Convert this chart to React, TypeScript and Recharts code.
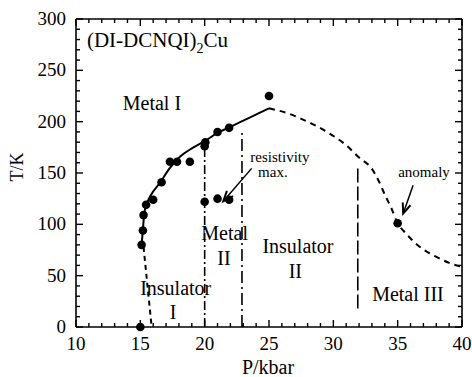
import {
  ComposedChart,
  Line,
  Scatter,
  XAxis,
  YAxis,
  ReferenceLine,
  ReferenceDot,
} from "recharts";

const FONT = '"Liberation Serif", "Times New Roman", serif';
const TICK_GAP = 6;

// measured transition points (P in kbar, T in K)
const onsetP = [15.0, 15.1, 15.2, 15.25, 15.45, 16.0, 16.65, 17.3, 17.85, 18.85, 20.0, 20.05, 21.0, 21.9, 25.0, 35.0];
const onsetT = [0, 80, 94, 109, 119, 124, 141, 161, 161, 161, 176, 180, 190, 194, 225, 101];

// resistivity maxima inside Metal II
const rhoMaxP = [20.0, 21.0, 21.9];
const rhoMaxT = [122, 125, 124];

// solid Metal I boundary
const upperP = [15.1, 15.2, 15.3, 15.5, 15.8, 16.5, 17.3, 18.1, 19.0, 20.0, 21.0, 22.0, 23.5, 25.0];
const upperT = [80, 95, 110, 120, 128, 140, 155, 166, 174, 181, 189, 195, 204, 213];

// dashed continuation to high pressure
const highP = [25.0, 26.5, 28.0, 29.5, 31.0, 32.0, 33.0, 33.5, 34.0, 34.5, 35.0, 35.5, 36.1, 37.0, 37.9, 39.0, 40.0];
const highT = [213, 208, 200, 190, 177, 165, 154, 143, 129, 116, 101, 93, 85, 75.5, 69, 62.5, 58.5];

// dashed low-pressure edge of Insulator I
const lowP = [15.25, 15.88];
const lowT = [78, 0];

// vertical phase walls
const wallP = [20.0, 22.9, 31.9];
const wallLo = [0, 0, 18];
const wallHi = [178, 190, 155];
const wallDash = ["9 3 2 3", "12 4 2 4", "14 4"];

// phase names
const phaseText = ["Metal I", "Insulator", "I", "Metal", "II", "Insulator", "II", "Metal III"];
const phaseP = [15.9, 17.75, 17.55, 21.55, 21.5, 27.25, 27.05, 35.8];
const phaseT = [211, 31, 7.5, 85, 60.5, 72, 47.5, 25];

// small notes with arrows
const noteText = ["resistivity", "max.", "anomaly"];
const noteP = [25.85, 25.3, 37.05];
const noteT = [161, 146, 146];
const arrowFromP = [23.65, 36.2];
const arrowFromT = [154.5, 138];
const arrowToP = [21.45, 35.43];
const arrowToT = [122.5, 110.5];

const titleMain = "(DI-DCNQI)";
const titleSub = "2";
const titleTail = "Cu";
const titleP = 10.85;
const titleT = 272.6;

const xTitle = "P/kbar";
const yTitle = "T/K";

const P_MIN = 10;
const P_MAX = 40;
const T_MIN = 0;
const T_MAX = 300;

const xTicks = [10, 11, 12, 13, 14, 15, 16, 17, 18, 19, 20, 21, 22, 23, 24, 25, 26, 27, 28, 29, 30, 31, 32, 33, 34, 35, 36, 37, 38, 39, 40];
const xMajor = [10, 15, 20, 25, 30, 35, 40];
const yTicks = [0, 10, 20, 30, 40, 50, 60, 70, 80, 90, 100, 110, 120, 130, 140, 150, 160, 170, 180, 190, 200, 210, 220, 230, 240, 250, 260, 270, 280, 290, 300];
const yMajor = [0, 50, 100, 150, 200, 250, 300];

const zip = (ps: number[], ts: number[]) => ps.map((p, i) => ({ p, t: ts[i] }));

// tick anchor points on each side of the frame
const bottomTicks = xTicks.map((p) => ({ p, t: T_MIN }));
const topTicks = xTicks.map((p) => ({ p, t: T_MAX }));
const leftTicks = yTicks.map((t) => ({ p: P_MIN, t }));
const rightTicks = yTicks.map((t) => ({ p: P_MAX, t }));
const frameTop = [{ p: P_MIN, t: T_MAX }, { p: P_MAX, t: T_MAX }];
const frameRight = [{ p: P_MAX, t: T_MIN }, { p: P_MAX, t: T_MAX }];

// inward tick marks drawn as scatter shapes; (dx, dy) is the inward direction
const tickMark = (dx: number, dy: number, isMajor: (d: any) => boolean) => (props: any) => {
  const len = isMajor(props.payload) ? 7 : 4;
  return (
    <line
      x1={props.cx}
      y1={props.cy}
      x2={props.cx + dx * len}
      y2={props.cy + dy * len}
      stroke="#000"
      strokeWidth={1.4}
    />
  );
};
const majorP = (d: any) => xMajor.includes(d.p);
const majorT = (d: any) => yMajor.includes(d.t);

// tick labels, plus the axis titles hung off the centre ticks
const renderXTick = (props: any) => {
  const { x, y, payload } = props;
  const axis = y - TICK_GAP;
  return (
    <g>
      {xMajor.includes(payload.value) && (
        <text x={x} y={axis + 23} textAnchor="middle" fontFamily={FONT} fontSize={19} fill="#000">
          {payload.value}
        </text>
      )}
      {payload.value === 25 && (
        <text x={x - 1} y={axis + 47} textAnchor="middle" fontFamily={FONT} fontSize={20} fill="#000">
          {xTitle}
        </text>
      )}
    </g>
  );
};

const renderYTick = (props: any) => {
  const { x, y, payload } = props;
  const axis = x + TICK_GAP;
  const tx = axis - 59;
  const ty = y - 6;
  return (
    <g>
      {yMajor.includes(payload.value) && (
        <text x={axis - 10} y={y + 6} textAnchor="end" fontFamily={FONT} fontSize={19} fill="#000">
          {payload.value}
        </text>
      )}
      {payload.value === 150 && (
        <text x={tx} y={ty} transform={`rotate(-90, ${tx}, ${ty})`} textAnchor="middle" dominantBaseline="central" fontFamily={FONT} fontSize={18} fill="#000">
          {yTitle}
        </text>
      )}
    </g>
  );
};

const Dot = (props: any) => <circle cx={props.cx} cy={props.cy} r={4.3} fill="#000" />;

const Arrow = (props: any) => {
  const { x1, y1, x2, y2 } = props;
  const ang = Math.atan2(y2 - y1, x2 - x1);
  const len = 11;
  const spread = 0.38;
  const ax = x2 - len * Math.cos(ang - spread);
  const ay = y2 - len * Math.sin(ang - spread);
  const bx = x2 - len * Math.cos(ang + spread);
  const by = y2 - len * Math.sin(ang + spread);
  return (
    <g>
      <line x1={x1} y1={y1} x2={x2} y2={y2} stroke="#000" strokeWidth={1.5} />
      <path d={`M${ax},${ay} L${x2},${y2} L${bx},${by}`} fill="none" stroke="#000" strokeWidth={2} />
    </g>
  );
};

const textAt = (text: string, size: number) => (props: any) => (
  <text x={props.cx} y={props.cy} textAnchor="middle" fontFamily={FONT} fontSize={size} fill="#000">
    {text}
  </text>
);

const Title = (props: any) => (
  <text x={props.cx} y={props.cy} fontFamily={FONT} fontSize={21} fill="#000">
    {titleMain}
    <tspan fontSize={14} dy={6}>{titleSub}</tspan>
    <tspan dy={-6}>{titleTail}</tspan>
  </text>
);

export default function App() {
  const axisLine = { stroke: "#000", strokeWidth: 1.6 };
  return (
    <div style={{ position: "absolute", left: 0, top: 0, background: "#fff" }}>
      <ComposedChart width={472} height={377} margin={{ top: 19, right: 10, bottom: 0, left: 0 }}>
        <XAxis
          dataKey="p"
          type="number"
          domain={[P_MIN, P_MAX]}
          ticks={xTicks}
          interval={0}
          tickSize={0}
          tickLine={false}
          tickMargin={TICK_GAP}
          tick={renderXTick}
          axisLine={axisLine}
          height={50}
        />
        <YAxis
          dataKey="t"
          type="number"
          domain={[T_MIN, T_MAX]}
          ticks={yTicks}
          interval={0}
          tickSize={0}
          tickLine={false}
          tickMargin={TICK_GAP}
          tick={renderYTick}
          axisLine={axisLine}
          width={76}
        />

        {/* frame top and right edges */}
        <Line data={frameTop} dataKey="t" type="linear" stroke="#000" strokeWidth={1.6} dot={false} isAnimationActive={false} />
        <Line data={frameRight} dataKey="t" type="linear" stroke="#000" strokeWidth={1.6} dot={false} isAnimationActive={false} />

        {/* inward ticks on all four sides */}
        <Scatter data={bottomTicks} shape={tickMark(0, -1, majorP)} isAnimationActive={false} />
        <Scatter data={topTicks} shape={tickMark(0, 1, majorP)} isAnimationActive={false} />
        <Scatter data={leftTicks} shape={tickMark(1, 0, majorT)} isAnimationActive={false} />
        <Scatter data={rightTicks} shape={tickMark(-1, 0, majorT)} isAnimationActive={false} />

        {wallP.map((p, i) => (
          <ReferenceLine
            key={`wall-${i}`}
            segment={[{ x: p, y: wallLo[i] }, { x: p, y: wallHi[i] }]}
            stroke="#000"
            strokeWidth={1.6}
            strokeDasharray={wallDash[i]}
          />
        ))}

        <Line data={zip(upperP, upperT)} dataKey="t" type="monotone" stroke="#000" strokeWidth={2} dot={false} isAnimationActive={false} />
        <Line data={zip(highP, highT)} dataKey="t" type="monotone" stroke="#000" strokeWidth={2} strokeDasharray="6 5" dot={false} isAnimationActive={false} />
        <Line data={zip(lowP, lowT)} dataKey="t" type="linear" stroke="#000" strokeWidth={2} strokeDasharray="5 4" dot={false} isAnimationActive={false} />

        <Scatter data={zip(onsetP, onsetT)} fill="#000" shape={<Dot />} isAnimationActive={false} />
        <Scatter data={zip(rhoMaxP, rhoMaxT)} fill="#000" shape={<Dot />} isAnimationActive={false} />

        {arrowFromP.map((p, i) => (
          <ReferenceLine
            key={`arrow-${i}`}
            segment={[{ x: p, y: arrowFromT[i] }, { x: arrowToP[i], y: arrowToT[i] }]}
            shape={<Arrow />}
          />
        ))}

        {phaseText.map((s, i) => (
          <ReferenceDot key={`phase-${i}`} x={phaseP[i]} y={phaseT[i]} r={0} shape={textAt(s, 20)} />
        ))}
        {noteText.map((s, i) => (
          <ReferenceDot key={`note-${i}`} x={noteP[i]} y={noteT[i]} r={0} shape={textAt(s, 15)} />
        ))}
        <ReferenceDot x={titleP} y={titleT} r={0} shape={<Title />} />
      </ComposedChart>
    </div>
  );
}
